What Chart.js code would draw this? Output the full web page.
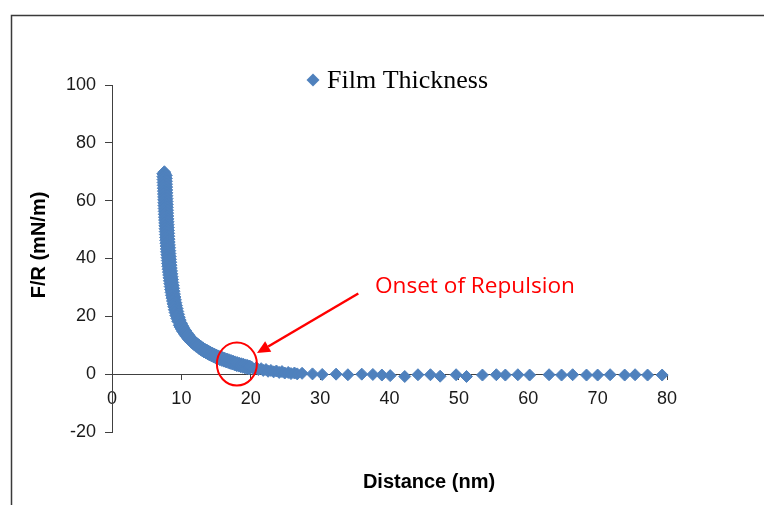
<!DOCTYPE html>
<html><head><meta charset="utf-8">
<script src="https://cdn.jsdelivr.net/npm/chart.js@4.4.1/dist/chart.umd.min.js"></script>
<style>html,body{margin:0;padding:0;background:#fff;}canvas{display:block;}</style>
</head><body>
<canvas id="c" width="764" height="505"></canvas>
<script>
// ---- data ----
const seriesName = 'Film Thickness';
const xAxisTitle = 'Distance (nm)';
const yAxisTitle = 'F/R (mN/m)';
const annotationText = 'Onset of Repulsion';
const xTickValues = [0, 10, 20, 30, 40, 50, 60, 70, 80];
const yTickValues = [-20, 0, 20, 40, 60, 80, 100];

const distance = [
  7.45, 7.55, 7.65,  7.32, 7.57, 7.82,  7.33, 7.58, 7.83,  7.35, 7.60, 7.85,
  7.36, 7.61, 7.86,  7.38, 7.63, 7.88,  7.39, 7.64, 7.89,  7.41, 7.66, 7.91,
  7.42, 7.67, 7.92,  7.44, 7.69, 7.94,  7.45, 7.70, 7.95,  7.47, 7.72, 7.97,
  7.48, 7.73, 7.98,  7.50, 7.75, 8.00,  7.52, 7.77, 8.02,  7.54, 7.79, 8.04,
  7.56, 7.81, 8.06,  7.58, 7.83, 8.08,  7.60, 7.85, 8.10,  7.62, 7.87, 8.12,
  7.64, 7.89, 8.14,  7.67, 7.92, 8.17,  7.69, 7.94, 8.19,  7.72, 7.97, 8.22,
  7.74, 7.99, 8.24,  7.77, 8.02, 8.27,  7.80, 8.05, 8.30,  7.83, 8.08, 8.33,
  7.86, 8.11, 8.36,  7.90, 8.15, 8.40,  7.93, 8.18, 8.43,  7.97, 8.22, 8.47,
  8.00, 8.25, 8.50,  8.04, 8.29, 8.54,  8.08, 8.33, 8.58,  8.13, 8.38, 8.63,
  8.17, 8.42, 8.67,  8.22, 8.47, 8.72,  8.27, 8.52, 8.77,  8.33, 8.58, 8.83,
  8.38, 8.63, 8.88,  8.44, 8.69, 8.94,  8.50, 8.75, 9.00,  8.57, 8.82, 9.07,
  8.64, 8.89, 9.14,  8.72, 8.97, 9.22,  8.80, 9.05, 9.30,  8.89, 9.14, 9.39,
  8.98, 9.23, 9.48,  9.09, 9.34, 9.59,  9.20, 9.45, 9.70,  9.33, 9.58, 9.83,
  9.47, 9.72, 9.97,
  9.70, 9.85, 10.00,  9.85, 10.00, 10.15,  10.00, 10.15, 10.30,  10.15, 10.30, 10.45,
  10.35, 10.50, 10.65, 10.50, 10.65, 10.80, 10.70, 10.85, 11.00,  10.85, 11.00, 11.15,
  11.05, 11.20, 11.35, 11.25, 11.40, 11.55, 11.45, 11.60, 11.75,  11.70, 11.85, 12.00,
  11.90, 12.05, 12.20, 12.15, 12.30, 12.45,
  12.50, 12.55, 12.60, 12.75, 12.80, 12.85, 13.00, 13.05, 13.10,  13.25, 13.30, 13.35,
  13.55, 13.60, 13.65, 13.80, 13.85, 13.90, 14.05, 14.10, 14.15,  14.35, 14.40, 14.45,
  14.65, 14.70, 14.75, 14.95, 15.00, 15.05, 15.25, 15.30, 15.35,  15.55, 15.60, 15.65,
  15.85, 15.90, 15.95, 16.15, 16.20, 16.25, 16.45, 16.50, 16.55,  16.75, 16.80, 16.85,
  17.05, 17.10, 17.15, 17.35, 17.40, 17.45, 17.65, 17.70, 17.75,  17.95, 18.00, 18.05,
  18.25, 18.30, 18.35, 18.55, 18.60, 18.65, 18.85, 18.90, 18.95,  19.15, 19.20, 19.25,
  19.45, 19.50, 19.55, 19.75, 19.80, 19.85,
  20.1, 20.4, 20.8, 21.1, 21.5, 21.8, 22.2, 22.5, 22.9, 23.3,
  23.7, 24.1, 24.5, 24.9, 25.4, 25.8, 26.3, 26.7, 27.4,
  28.9, 30.3, 32.3, 34.0, 36.0, 37.6, 38.9, 40.1, 42.2, 44.1,
  45.9, 47.3, 49.6, 51.1, 53.4, 55.4, 56.7, 58.5, 60.2, 63.0,
  64.8, 66.4, 68.4, 70.0, 71.8, 73.9, 75.4, 77.2, 79.3
];
const force = [
  69.5, 70.0, 69.5,  69.3, 69.0, 68.7,  68.3, 68.0, 67.7,  67.3, 67.0, 66.7,
  66.3, 66.0, 65.7,  65.3, 65.0, 64.7,  64.3, 64.0, 63.7,  63.3, 63.0, 62.7,
  62.3, 62.0, 61.7,  61.3, 61.0, 60.7,  60.3, 60.0, 59.7,  59.3, 59.0, 58.7,
  58.3, 58.0, 57.7,  57.3, 57.0, 56.7,  56.3, 56.0, 55.7,  55.3, 55.0, 54.7,
  54.3, 54.0, 53.7,  53.3, 53.0, 52.7,  52.3, 52.0, 51.7,  51.3, 51.0, 50.7,
  50.3, 50.0, 49.7,  49.3, 49.0, 48.7,  48.3, 48.0, 47.7,  47.3, 47.0, 46.7,
  46.3, 46.0, 45.7,  45.3, 45.0, 44.7,  44.3, 44.0, 43.7,  43.3, 43.0, 42.7,
  42.3, 42.0, 41.7,  41.3, 41.0, 40.7,  40.3, 40.0, 39.7,  39.3, 39.0, 38.7,
  38.3, 38.0, 37.7,  37.3, 37.0, 36.7,  36.3, 36.0, 35.7,  35.3, 35.0, 34.7,
  34.3, 34.0, 33.7,  33.3, 33.0, 32.7,  32.3, 32.0, 31.7,  31.3, 31.0, 30.7,
  30.3, 30.0, 29.7,  29.3, 29.0, 28.7,  28.3, 28.0, 27.7,  27.3, 27.0, 26.7,
  26.3, 26.0, 25.7,  25.3, 25.0, 24.7,  24.3, 24.0, 23.7,  23.3, 23.0, 22.7,
  22.3, 22.0, 21.7,  21.3, 21.0, 20.7,  20.3, 20.0, 19.7,  19.3, 19.0, 18.7,
  18.3, 18.0, 17.7,
  16.9, 17.2, 17.5,  16.2, 16.5, 16.8,  15.6, 15.9, 16.2,  14.9, 15.2, 15.5,
  14.3, 14.6, 14.9,  13.7, 14.0, 14.3,  13.1, 13.4, 13.7,  12.6, 12.9, 13.2,
  12.0, 12.3, 12.6,  11.5, 11.8, 12.1,  11.0, 11.3, 11.6,  10.5, 10.8, 11.1,
  10.05, 10.35, 10.65, 9.6, 9.9, 10.2,
  8.95, 9.45, 9.95,  8.5, 9.0, 9.5,    8.1, 8.6, 9.1,     7.7, 8.2, 8.7,
  7.35, 7.85, 8.35,  7.0, 7.5, 8.0,    6.65, 7.15, 7.65,  6.3, 6.8, 7.3,
  5.95, 6.45, 6.95,  5.6, 6.1, 6.6,    5.3, 5.8, 6.3,     5.0, 5.5, 6.0,
  4.75, 5.25, 5.75,  4.5, 5.0, 5.5,    4.25, 4.75, 5.25,  4.0, 4.5, 5.0,
  3.75, 4.25, 4.75,  3.5, 4.0, 4.5,    3.25, 3.75, 4.25,  3.0, 3.5, 4.0,
  2.8, 3.3, 3.8,     2.6, 3.1, 3.6,    2.4, 2.9, 3.4,     2.2, 2.7, 3.2,
  2.0, 2.5, 3.0,     1.8, 2.3, 2.8,
  2.5, 1.8, 2.2, 1.6, 1.9, 1.3, 1.6, 1.0, 1.3, 0.8,
  1.1, 0.6, 0.9, 0.4, 0.6, 0.2, 0.4, 0.1, 0.3,
  0.1, -0.1, 0.0, -0.2, 0.0, -0.1, -0.3, -0.5, -0.8, -0.2,
  -0.2, -0.7, -0.2, -0.8, -0.3, -0.2, -0.3, -0.2, -0.3, -0.2,
  -0.3, -0.2, -0.3, -0.3, -0.2, -0.3, -0.2, -0.3, -0.3
];

// ---- styling / layout ----
const BLUE = '#4F81BD';
const AXIS = '#404040';
const RED = '#FF0000';
const annotation = {
  circle: {x: 18.0, y: 3.5, rx: 20, ry: 21.5},
  arrowFrom: {x: 35.5, y: 27.9},
  arrowTo: {x: 20.9, y: 7.3},
  text: {x: 37.9, y: 28.0}
};

const points = distance.map((d, i) => ({x: d, y: force[i]}));

const overlay = {
  id: 'overlay',
  afterDraw(chart) {
    const ctx = chart.ctx;
    const xs = chart.scales.x, ys = chart.scales.y;
    ctx.save();
    // outer frame (top & left visible)
    ctx.strokeStyle = '#3a3a3a';
    ctx.lineWidth = 1.5;
    ctx.beginPath();
    ctx.moveTo(11.5, 505);
    ctx.lineTo(11.5, 15.5);
    ctx.lineTo(764, 15.5);
    ctx.stroke();

    // legend
    ctx.fillStyle = BLUE;
    ctx.beginPath();
    const lx = 313, ly = 80, lr = 6.5;
    ctx.moveTo(lx - lr, ly); ctx.lineTo(lx, ly - lr); ctx.lineTo(lx + lr, ly); ctx.lineTo(lx, ly + lr);
    ctx.closePath(); ctx.fill();
    ctx.fillStyle = '#000';
    ctx.font = '26px "Liberation Serif", "Times New Roman", serif';
    ctx.textAlign = 'left'; ctx.textBaseline = 'alphabetic';
    ctx.fillText(seriesName, 327, 88);

    // axis titles
    ctx.font = 'bold 20px "Liberation Sans", Arial, sans-serif';
    ctx.textAlign = 'center';
    ctx.fillText(xAxisTitle, 429, 488);
    ctx.save();
    ctx.translate(45, 245);
    ctx.rotate(-Math.PI / 2);
    ctx.fillText(yAxisTitle, 0, 0);
    ctx.restore();

    // annotation circle
    const c = annotation.circle;
    ctx.strokeStyle = RED; ctx.lineWidth = 2;
    ctx.beginPath();
    ctx.ellipse(xs.getPixelForValue(c.x), ys.getPixelForValue(c.y), c.rx, c.ry, 0, 0, Math.PI * 2);
    ctx.stroke();

    // arrow
    const x1 = xs.getPixelForValue(annotation.arrowFrom.x), y1 = ys.getPixelForValue(annotation.arrowFrom.y);
    const x2 = xs.getPixelForValue(annotation.arrowTo.x), y2 = ys.getPixelForValue(annotation.arrowTo.y);
    const ang = Math.atan2(y2 - y1, x2 - x1);
    const hl = 13, hw = 6;
    const bx = x2 - hl * Math.cos(ang), by = y2 - hl * Math.sin(ang);
    ctx.lineWidth = 2.5;
    ctx.beginPath(); ctx.moveTo(x1, y1); ctx.lineTo(bx, by); ctx.stroke();
    ctx.fillStyle = RED;
    ctx.beginPath();
    ctx.moveTo(x2, y2);
    ctx.lineTo(bx + hw * Math.sin(ang), by - hw * Math.cos(ang));
    ctx.lineTo(bx - hw * Math.sin(ang), by + hw * Math.cos(ang));
    ctx.closePath(); ctx.fill();

    // annotation text
    ctx.font = '22px "Open Sans", "Liberation Sans", sans-serif';
    const w = ctx.measureText(annotationText).width;
    const size = 22 * 200 / w;
    ctx.font = size.toFixed(2) + 'px "Open Sans", "Liberation Sans", sans-serif';
    ctx.textAlign = 'left';
    ctx.fillText(annotationText, xs.getPixelForValue(annotation.text.x), ys.getPixelForValue(annotation.text.y));
    ctx.restore();
  }
};

new Chart(document.getElementById('c'), {
  type: 'scatter',
  data: {
    datasets: [{
      label: seriesName,
      data: points,
      pointStyle: 'rectRot',
      pointRadius: 6,
      pointHoverRadius: 6,
      pointBorderWidth: 1,
      backgroundColor: BLUE,
      borderColor: BLUE,
      clip: false
    }]
  },
  options: {
    responsive: false,
    animation: false,
    devicePixelRatio: 1,
    events: [],
    layout: {padding: {left: 20, right: 97, top: 85, bottom: 73}},
    plugins: {legend: {display: false}, tooltip: {enabled: false}, title: {display: false}},
    scales: {
      x: {
        type: 'linear',
        position: {y: 0},
        min: xTickValues[0],
        max: xTickValues[xTickValues.length - 1],
        afterBuildTicks: s => { s.ticks = xTickValues.map(v => ({value: v})); },
        grid: {display: true, drawOnChartArea: false, drawTicks: true, tickLength: 5, color: AXIS, lineWidth: 1},
        border: {display: true, color: AXIS, width: 1},
        ticks: {color: '#1a1a1a', padding: 9, font: {family: '"Liberation Sans", Arial, sans-serif', size: 18}}
      },
      y: {
        type: 'linear',
        position: 'left',
        min: yTickValues[0],
        max: yTickValues[yTickValues.length - 1],
        afterBuildTicks: s => { s.ticks = yTickValues.map(v => ({value: v})); },
        afterFit: s => { s.width = 92; },
        grid: {display: true, drawOnChartArea: false, drawTicks: true, tickLength: 7, color: AXIS, lineWidth: 1},
        border: {display: true, color: AXIS, width: 1},
        ticks: {color: '#1a1a1a', padding: 9, font: {family: '"Liberation Sans", Arial, sans-serif', size: 18}}
      }
    }
  },
  plugins: [overlay]
});
</script>
</body></html>
